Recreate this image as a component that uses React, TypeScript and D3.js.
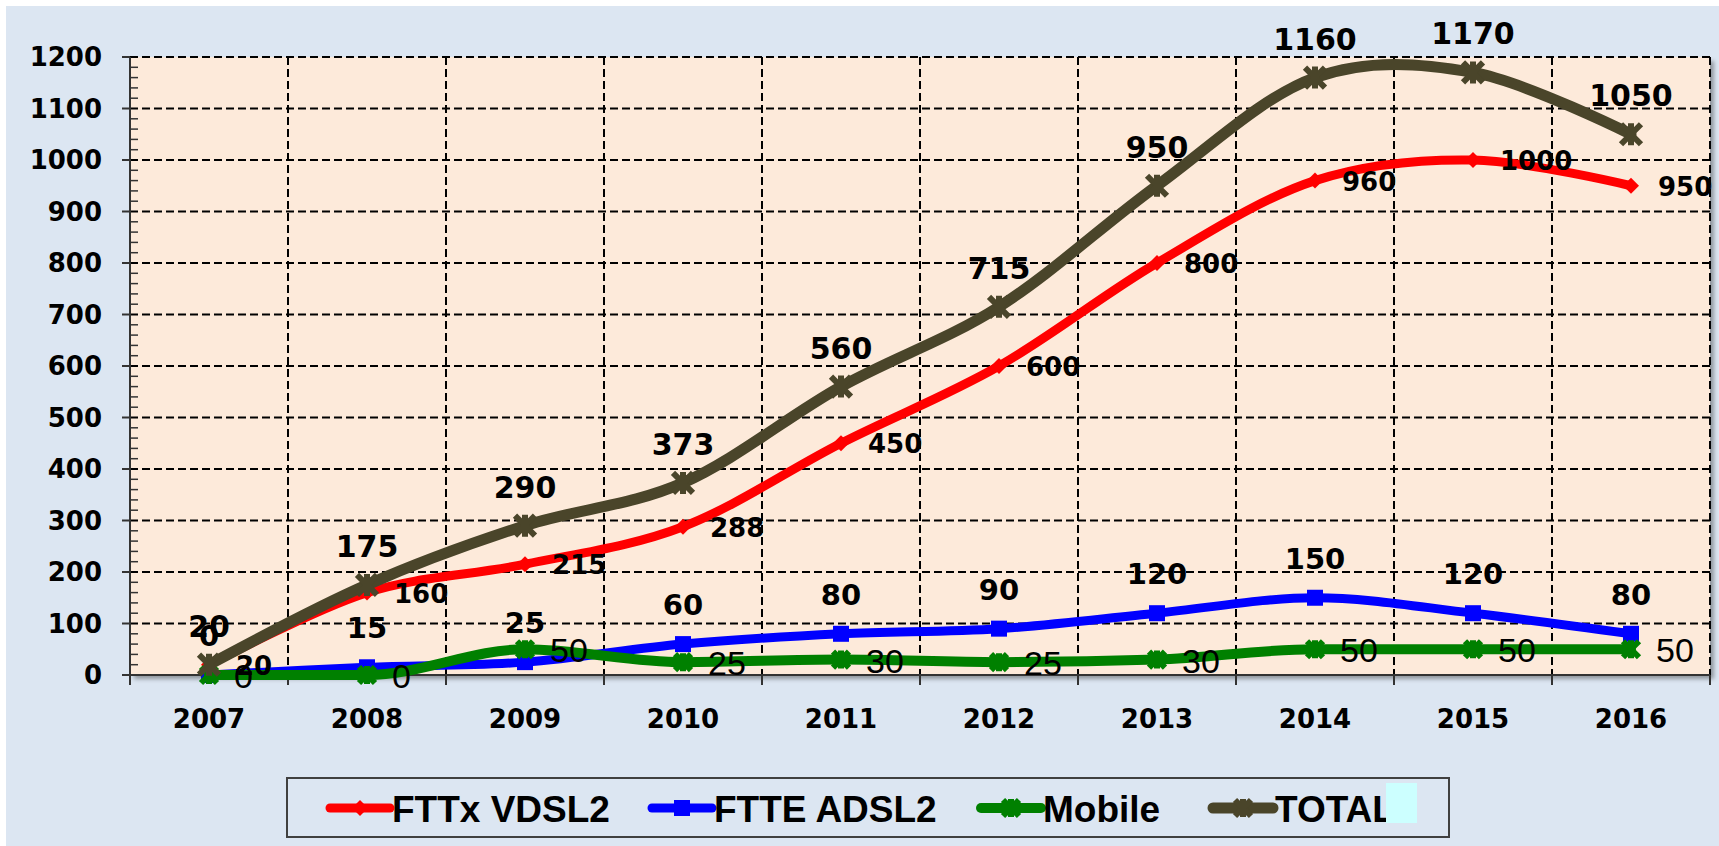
import React from "react";
import * as d3 from "d3";

const years = ["2007", "2008", "2009", "2010", "2011", "2012", "2013", "2014", "2015", "2016"];
const fttxVdsl2 = [20, 160, 215, 288, 450, 600, 800, 960, 1000, 950];
const fteAdsl2 = [0, 15, 25, 60, 80, 90, 120, 150, 120, 80];
const mobile = [0, 0, 50, 25, 30, 25, 30, 50, 50, 50];
const total = [20, 175, 290, 373, 560, 715, 950, 1160, 1170, 1050];
const yTicks = [0, 100, 200, 300, 400, 500, 600, 700, 800, 900, 1000, 1100, 1200];
const seriesNames = ["FTTx VDSL2", "FTTE ADSL2", "Mobile", "TOTAL"];

const W = 1719;
const H = 846;
const L = 130, R = 1710, T = 57, B = 675;

type Series = {
  name: string;
  values: number[];
  color: string;
  width: number;
  marker: "diamond" | "square" | "star";
  msize: number;
  label: "right" | "above";
  font: string;
  fsize: number;
  weight: string;
  dx: number;
  dy: number;
  monotone: boolean;
};

const series: Series[] = [
  { name: seriesNames[0], values: fttxVdsl2, color: "#FF0000", width: 9, marker: "diamond", msize: 8, label: "right", font: "DejaVu Sans", fsize: 26, weight: "bold", dx: 27, dy: 10, monotone: false },
  { name: seriesNames[1], values: fteAdsl2, color: "#0000FF", width: 9, marker: "square", msize: 8, label: "above", font: "DejaVu Sans", fsize: 29, weight: "bold", dx: 0, dy: -29, monotone: false },
  { name: seriesNames[2], values: mobile, color: "#008000", width: 10, marker: "star", msize: 8, label: "right", font: "Liberation Sans", fsize: 34, weight: "normal", dx: 25, dy: 13, monotone: true },
  { name: seriesNames[3], values: total, color: "#4A452A", width: 11, marker: "star", msize: 10, label: "above", font: "DejaVu Sans", fsize: 30, weight: "bold", dx: 0, dy: -28, monotone: false },
];

function Marker({ kind, x, y, r, color }: { kind: string; x: number; y: number; r: number; color: string }) {
  if (kind === "diamond") {
    return <path d={`M${x},${y - r} L${x + r},${y} L${x},${y + r} L${x - r},${y} Z`} fill={color} />;
  }
  if (kind === "square") {
    return <rect x={x - r} y={y - r} width={2 * r} height={2 * r} fill={color} />;
  }
  return (
    <path
      d={`M${x - r},${y - r} L${x + r},${y + r} M${x - r},${y + r} L${x + r},${y - r} M${x},${y - r - 1} L${x},${y + r + 1}`}
      stroke={color}
      strokeWidth={6}
      fill="none"
    />
  );
}

export default function App() {
  const x = d3.scaleBand().domain(years).range([L, R]);
  const y = d3.scaleLinear().domain([0, 1200]).range([B, T]);
  const bw = x.bandwidth();
  const cx = (yr: string) => (x(yr) as number) + bw / 2;
  const minor = d3.range(0, 1201, 20).filter((v) => v % 100 !== 0);
  const boundaries = years.map((yr) => x(yr) as number).concat([R]);

  const legendX = [330, 652, 981, 1213];

  return (
    <div style={{ position: "absolute", left: 0, top: 0 }}>
      <svg width={W} height={H} style={{ display: "block" }}>
        <defs>
          <filter id="sh" x="-5%" y="-5%" width="110%" height="115%">
            <feDropShadow dx="4" dy="4" stdDeviation="2" floodColor="#000" floodOpacity="0.35" />
          </filter>
        </defs>
        <rect x={0} y={0} width={W} height={H} fill="#FFFFFF" />
        <rect x={6} y={6} width={W - 6} height={H - 6} fill="#DCE6F2" />
        <rect x={L} y={T} width={R - L} height={B - T} fill="#FDEADA" filter="url(#sh)" />

        {yTicks.map((v) => (
          <line key={"h" + v} x1={L} x2={R} y1={y(v)} y2={y(v)} stroke="#000" strokeWidth={2} strokeDasharray="8,4" />
        ))}
        {boundaries.slice(1).map((bx, i) => (
          <line key={"v" + i} x1={bx} x2={bx} y1={T} y2={B} stroke="#000" strokeWidth={2} strokeDasharray="8,4" />
        ))}

        <line x1={L} x2={L} y1={T} y2={B} stroke="#333" strokeWidth={2} />
        <line x1={L} x2={R} y1={B} y2={B} stroke="#333" strokeWidth={2} />
        {yTicks.map((v) => (
          <line key={"t" + v} x1={L - 8} x2={L} y1={y(v)} y2={y(v)} stroke="#333" strokeWidth={2} />
        ))}
        {minor.map((v) => (
          <line key={"m" + v} x1={L} x2={L + 8} y1={y(v)} y2={y(v)} stroke="#333" strokeWidth={1.5} />
        ))}
        {boundaries.map((bx, i) => (
          <line key={"xt" + i} x1={bx} x2={bx} y1={B} y2={B + 10} stroke="#333" strokeWidth={2} />
        ))}
        {yTicks.map((v) => (
          <text key={"yl" + v} x={102} y={y(v)} dy="0.36em" textAnchor="end" fontFamily="DejaVu Sans" fontWeight="bold" fontSize={26} fill="#000">
            {v}
          </text>
        ))}
        {years.map((yr) => (
          <text key={"xl" + yr} x={cx(yr)} y={728} textAnchor="middle" fontFamily="DejaVu Sans" fontWeight="bold" fontSize={26} fill="#000">
            {yr}
          </text>
        ))}

        {series.map((s) => {
          const line = d3
            .line<number>()
            .x((_, i) => cx(years[i]))
            .y((d) => y(d))
            .curve(s.monotone ? d3.curveMonotoneX : d3.curveCardinal.tension(0));
          return (
            <g key={s.name}>
              <path d={line(s.values) || ""} fill="none" stroke={s.color} strokeWidth={s.width} strokeLinejoin="round" strokeLinecap="round" />
              {s.values.map((v, i) => (
                <Marker key={i} kind={s.marker} x={cx(years[i])} y={y(v)} r={s.msize} color={s.color} />
              ))}
            </g>
          );
        })}

        {series.map((s) =>
          s.values.map((v, i) => (
            <text
              key={s.name + "l" + i}
              x={cx(years[i]) + s.dx}
              y={y(v) + s.dy}
              textAnchor={s.label === "above" ? "middle" : "start"}
              fontFamily={s.font}
              fontWeight={s.weight}
              fontSize={s.fsize}
              fill="#000"
            >
              {v}
            </text>
          ))
        )}

        <rect x={287} y={778} width={1162} height={59} fill="none" stroke="#404040" strokeWidth={2} />
        {series.map((s, i) => (
          <g key={"lg" + i}>
            <line x1={legendX[i]} x2={legendX[i] + 60} y1={808} y2={808} stroke={s.color} strokeWidth={s.width} strokeLinecap="round" />
            <Marker kind={s.marker} x={legendX[i] + 30} y={808} r={s.marker === "star" ? 8 : s.msize} color={s.color} />
            <text x={legendX[i] + 62} y={822} fontFamily="Liberation Sans" fontWeight="bold" fontSize={37} fill="#000">
              {s.name}
            </text>
          </g>
        ))}
        <rect x={1386} y={783} width={31} height={40} fill="#CCFFFF" />
      </svg>
    </div>
  );
}
